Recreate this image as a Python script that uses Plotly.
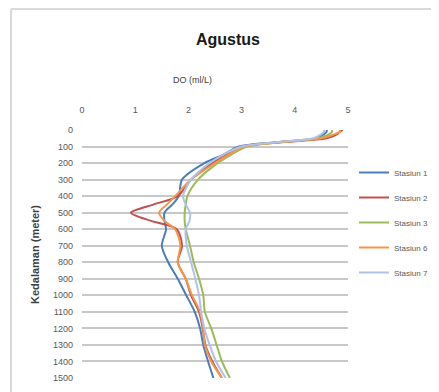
import plotly.graph_objects as go

depth = [0, 10, 25, 50, 75, 100, 150, 200, 300, 400, 450, 500, 550, 600,
         700, 800, 900, 1000, 1100, 1200, 1300, 1400, 1500]

stasiun1 = [4.60, 4.60, 4.55, 4.40, 3.60, 2.95, 2.65, 2.30, 1.88, 1.82, 1.70, 1.55, 1.55,
            1.58, 1.50, 1.62, 1.80, 1.96, 2.12, 2.22, 2.28, 2.37, 2.47]
stasiun2 = [4.90, 4.85, 4.80, 4.60, 3.70, 3.00, 2.70, 2.45, 2.05, 1.80, 1.35, 0.92, 1.30,
            1.78, 1.88, 1.80, 1.95, 2.05, 2.20, 2.27, 2.32, 2.45, 2.63]
stasiun3 = [4.70, 4.70, 4.65, 4.45, 3.70, 3.10, 2.80, 2.55, 2.18, 1.98, 1.95, 1.93, 1.93,
            1.95, 2.03, 2.10, 2.20, 2.28, 2.31, 2.43, 2.53, 2.63, 2.78]
stasiun6 = [4.85, 4.85, 4.75, 4.50, 3.70, 3.05, 2.75, 2.50, 2.05, 1.75, 1.60, 1.45, 1.55,
            1.75, 1.85, 1.80, 1.95, 2.07, 2.22, 2.28, 2.31, 2.43, 2.63]
stasiun7 = [4.55, 4.55, 4.50, 4.35, 3.60, 3.00, 2.65, 2.40, 2.05, 1.90, 1.95, 2.03, 2.02,
            1.95, 1.97, 2.05, 2.13, 2.20, 2.24, 2.30, 2.40, 2.52, 2.70]

names = ["Stasiun 1", "Stasiun 2", "Stasiun 3", "Stasiun 6", "Stasiun 7"]
series = [stasiun1, stasiun2, stasiun3, stasiun6, stasiun7]
colors = ["#4A7EBB", "#C0504D", "#9BBB59", "#F79646", "#AFC3E6"]

x_ticks = [0, 1, 2, 3, 4, 5]
y_ticks = list(range(0, 1600, 100))

FONT = "'Liberation Sans', Arial, sans-serif"

# page offset of the plot div (default body margin)
OFF = 8
PL, PR, PT, PB = 82, 348, 130, 378  # plot area in page pixels
W, H = 439, 392


def px(x):
    return (x - PL) / (PR - PL)


def py(y):
    return 1 - (y - PT) / (PB - PT)


fig = go.Figure()
for n, s, c in zip(names, series, colors):
    fig.add_trace(go.Scatter(
        x=s, y=depth, name=n, mode="lines",
        line=dict(color=c, width=2, shape="spline", smoothing=0.8),
        legendgroup=n,
    ))

fig.update_layout(
    width=W, height=H,
    margin=dict(l=PL - OFF, r=W - (PR - OFF), t=PT - OFF, b=H - (PB - OFF),
                autoexpand=False),
    paper_bgcolor="white", plot_bgcolor="white",
    font=dict(family=FONT, size=9, color="#595959"),
    title=dict(text="<b>Agustus</b>", x=(228 - OFF) / W, xanchor="center",
               y=1 - (39 - OFF) / H, yanchor="middle",
               font=dict(size=16, color="#1a1a1a", family=FONT)),
    showlegend=True,
    legend=dict(xref="container", yref="container",
                x=(354 - OFF) / W, xanchor="left",
                y=1 - (158 - OFF) / H, yanchor="top",
                font=dict(size=8, color="#595959"), tracegroupgap=6,
                itemwidth=30, bgcolor="rgba(0,0,0,0)"),
    xaxis=dict(side="top", range=[0, 5], tickvals=x_ticks, showgrid=False,
               zeroline=False, showline=False, ticks="", ticklabelstandoff=14,
               tickfont=dict(size=9, color="#595959")),
    yaxis=dict(range=[1500, 0], tickvals=y_ticks, showgrid=True,
               gridcolor="#C8C8C8", gridwidth=2, zeroline=False, showline=False,
               ticks="", ticklabelstandoff=8,
               tickfont=dict(size=9, color="#595959")),
    annotations=[
        dict(text="DO (ml/L)", xref="paper", yref="paper",
             x=px(192), y=py(80), xanchor="center",
             yanchor="middle", showarrow=False,
             font=dict(size=9, color="#404040", family=FONT)),
        dict(text="<b>Kedalaman (meter)</b>", xref="paper", yref="paper",
             x=px(35), y=py(255), xanchor="center",
             yanchor="middle", textangle=-90, showarrow=False,
             font=dict(size=11, color="#404040", family=FONT)),
    ],
    shapes=[
        dict(type="line", xref="paper", yref="paper",
             x0=px(11), x1=px(11), y0=py(9), y1=py(400),
             line=dict(color="#D9D9D9", width=2)),
        dict(type="line", xref="paper", yref="paper",
             x0=px(11), x1=px(450), y0=py(9), y1=py(9),
             line=dict(color="#D9D9D9", width=2)),
    ],
)

fig.write_html("out.html")
